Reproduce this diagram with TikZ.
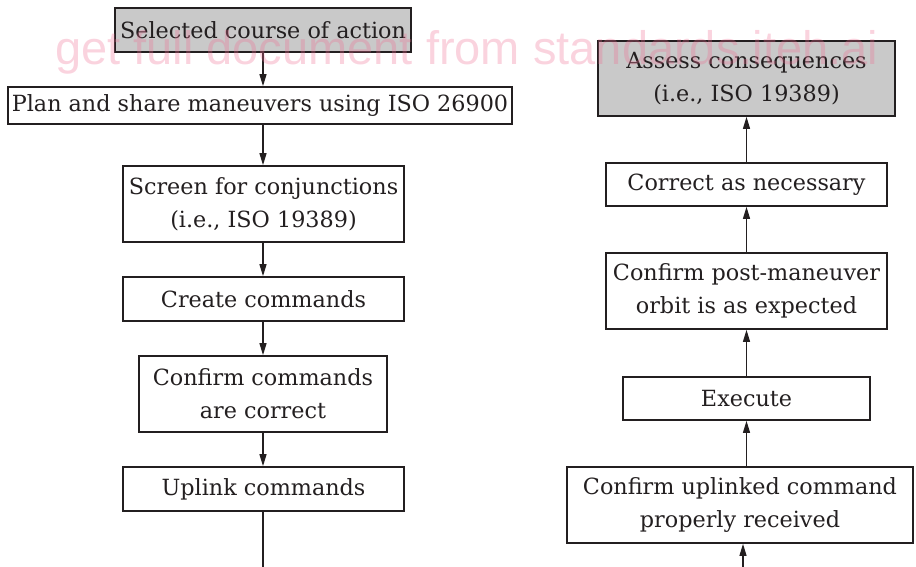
\documentclass[tikz,border=0pt]{standalone}
\usepackage{fontspec}
\setmainfont{DejaVu Serif}
\setsansfont{Liberation Sans}
\usepackage{xcolor}
\definecolor{myGray}{HTML}{C9C9C9}
\definecolor{myPink}{HTML}{EE6E93}
\definecolor{myInk}{HTML}{231F20}
\usetikzlibrary{
  positioning,
  calc,
  arrows.meta
}

\begin{document}
\begin{tikzpicture}[x=1pt, y=-1pt,
    box/.style={draw=myInk, line width=1.7pt, inner sep=0pt, align=center,
      text=myInk, font=\fontsize{22.3}{33}\selectfont},
    flow/.style={draw=myInk, line width=1.2pt, -{Triangle[length=12pt, width=7pt]}}]
      \useasboundingbox (0,0) rectangle (916,567);

      % 左の列
      \node[box, fill=myGray, minimum width=296pt, minimum height=44pt] (sel) at (263,30) {Selected course of action};
      \node[box, minimum width=504pt, minimum height=37pt] (plan) at (260,105.5) {Plan and share maneuvers using ISO 26900};
      \node[box, minimum width=281pt, minimum height=76pt] (screen) at (263.5,204) {Screen for conjunctions\\(i.e., ISO 19389)};
      \node[box, minimum width=281pt, minimum height=44pt] (create) at (263.5,299) {Create commands};
      \node[box, minimum width=248pt, minimum height=76pt] (confirm) at (263,394) {Confirm commands\\are correct};
      \node[box, minimum width=281pt, minimum height=44pt] (uplink) at (263.5,489) {Uplink commands};
      % 下の端へ続く線
      \coordinate (uplinkEnd) at (263,567);

      % 右の列
      \node[box, fill=myGray, minimum width=297pt, minimum height=75pt] (assess) at (746.5,78.5) {Assess consequences\\(i.e., ISO 19389)};
      \node[box, minimum width=281pt, minimum height=43pt] (correct) at (746.5,184.5) {Correct as necessary};
      \node[box, minimum width=281pt, minimum height=76pt] (orbit) at (746.5,291) {Confirm post-maneuver\\orbit is as expected};
      \node[box, minimum width=247pt, minimum height=43pt] (execute) at (746.5,398.5) {Execute};
      \node[box, minimum width=346pt, minimum height=76pt] (received) at (740,505) {Confirm uplinked command\\properly received};
      % 下の端から来る矢印
      \coordinate (receivedStart) at (743,567);

      % 左の列の矢印
      \draw[flow] (sel.south) -- (sel.south |- plan.north);
      \draw[flow] (sel.south |- plan.south) -- (sel.south |- screen.north);
      \draw[flow] (sel.south |- screen.south) -- (sel.south |- create.north);
      \draw[flow] (sel.south |- create.south) -- (sel.south |- confirm.north);
      \draw[flow] (sel.south |- confirm.south) -- (sel.south |- uplink.north);
      \draw[draw=myInk, line width=1.2pt] (uplinkEnd |- uplink.south) -- (uplinkEnd);

      % 右の列の矢印
      \draw[flow] (receivedStart) -- (receivedStart |- received.south);
      \draw[flow] (execute.north |- received.north) -- (execute.south);
      \draw[flow] (execute.north) -- (orbit.south);
      \draw[flow] (orbit.north) -- (correct.south);
      \draw[flow] (correct.north) -- (assess.south);

      % 透かしの文字
      \node[anchor=base west, inner sep=0pt, text=myPink, opacity=0.3,
        font=\fontsize{47}{47}\sffamily] (mark) at (55,65) {get full document from standards.iteh.ai};
\end{tikzpicture}
\end{document}
